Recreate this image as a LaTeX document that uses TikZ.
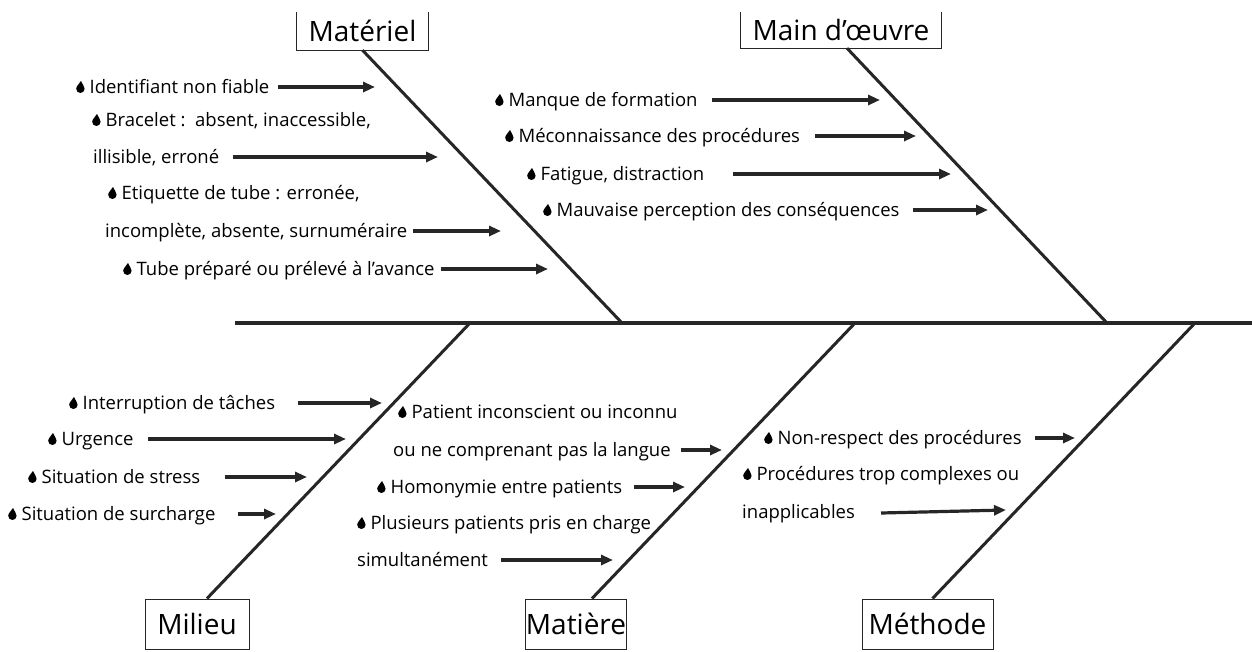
\documentclass[tikz,border=0pt]{standalone}
\usepackage{fontspec}
\setmainfont{Open Sans}
\usetikzlibrary{arrows.meta}
\definecolor{ink}{HTML}{262626}
\newcommand{\goutte}{\tikz[baseline=0pt,x=1pt,y=1pt]\fill[black] (0.6,12) .. controls (1.8,9.2) and (4.2,6.4) .. (4.2,4.2) arc[start angle=0,end angle=-180,radius=4.2] .. controls (-4.2,6.6) and (-1.2,9.2) .. (0.6,12) -- cycle;\hspace{5pt}}
\begin{document}
\begin{tikzpicture}[x=1pt,y=-1pt,
  txt/.style={anchor=base west,inner sep=0pt,font=\fontsize{18.5}{22}\selectfont,text=black},
  lbl/.style={inner sep=0pt,font=\fontsize{28}{32}\selectfont,text=black},
  box/.style={lbl,draw=ink,line width=1pt,minimum height=50pt},
  bone/.style={draw=ink,line width=3pt},
  arr/.style={draw=ink,line width=3.2pt,-{Triangle[length=12pt,width=10pt]}}]
\useasboundingbox (0,0) rectangle (1252,651);
\begin{scope}
\clip (0,0) rectangle (1252,651);
% spine
\coordinate (sp0) at (235,323);
\coordinate (sp1) at (1256,323);
\draw[ink,line width=3.4pt] (sp0) -- (sp1);
% head boxes
\node[lbl,minimum width=131pt,minimum height=38pt] (mat) at (362.5,31) {Matériel};
\draw[ink,line width=1pt] (mat.north west) -- (mat.south west) -- (mat.south east) -- (mat.north east);
\node[lbl,minimum width=200pt,minimum height=36pt] (mo) at (841,30) {Main d’œuvre};
\draw[ink,line width=1pt] (mo.north west) -- (mo.south west) -- (mo.south east) -- (mo.north east);
\node[box,minimum width=104pt] (mil) at (197,624) {Milieu};
\node[box,minimum width=100pt] (mtr) at (576,624) {Matière};
\node[box,minimum width=131pt] (mth) at (927.5,624) {Méthode};
% bones
\coordinate (b1) at (622,323);
\coordinate (b2) at (1107,323);
\coordinate (b3) at (470,323);
\coordinate (b4) at (855,323);
\coordinate (b5) at (1195,323);
\draw[bone] (mat.south) -- (b1);
\draw[bone] ([xshift=6pt]mo.south) -- (b2);
\draw[bone] (b3) -- ([xshift=10pt]mil.north);
\draw[bone] (b4) -- ([xshift=16pt]mtr.north);
\draw[bone] (b5) -- ([xshift=5pt]mth.north);
% Materiel causes
\node[txt] (m1) at (76,93) {\goutte Identifiant non fiable};
\node[txt] (m2) at (92,126) {\goutte Bracelet :\ \ absent, inaccessible,};
\node[txt] (m3) at (93,163) {illisible, erroné};
\node[txt] (m4) at (108,199) {\goutte Etiquette de tube : erronée,};
\node[txt] (m5) at (105,237) {incomplète, absente, surnuméraire};
\node[txt] (m6) at (123,275) {\goutte Tube préparé ou prélevé à l’avance};
\coordinate (m1s) at (278,87);  \coordinate (m1e) at (375,87);
\coordinate (m3s) at (233,157); \coordinate (m3e) at (438,157);
\coordinate (m5s) at (413,231); \coordinate (m5e) at (501,231);
\coordinate (m6s) at (441,269); \coordinate (m6e) at (548,269);
\draw[arr] (m1s) -- (m1e);
\draw[arr] (m3s) -- (m3e);
\draw[arr] (m5s) -- (m5e);
\draw[arr] (m6s) -- (m6e);
% Main d'oeuvre causes
\node[txt] (w1) at (495,106) {\goutte Manque de formation};
\node[txt] (w2) at (505,142) {\goutte Méconnaissance des procédures};
\node[txt] (w3) at (527,180) {\goutte Fatigue, distraction};
\node[txt] (w4) at (543,216) {\goutte Mauvaise perception des conséquences};
\coordinate (w1s) at (712,100); \coordinate (w1e) at (880,100);
\coordinate (w2s) at (815,136); \coordinate (w2e) at (916,136);
\coordinate (w3s) at (733,174); \coordinate (w3e) at (951,174);
\coordinate (w4s) at (913,210); \coordinate (w4e) at (988,210);
\draw[arr] (w1s) -- (w1e);
\draw[arr] (w2s) -- (w2e);
\draw[arr] (w3s) -- (w3e);
\draw[arr] (w4s) -- (w4e);
% Milieu causes
\node[txt] (l1) at (69,409) {\goutte Interruption de tâches};
\node[txt] (l2) at (48,445) {\goutte Urgence};
\node[txt] (l3) at (28,483) {\goutte Situation de stress};
\node[txt] (l4) at (8,520) {\goutte Situation de surcharge};
\coordinate (l1s) at (298,403); \coordinate (l1e) at (382,403);
\coordinate (l2s) at (148,439); \coordinate (l2e) at (346,439);
\coordinate (l3s) at (225,477); \coordinate (l3e) at (307,477);
\coordinate (l4s) at (238,514); \coordinate (l4e) at (276,514);
\draw[arr] (l1s) -- (l1e);
\draw[arr] (l2s) -- (l2e);
\draw[arr] (l3s) -- (l3e);
\draw[arr] (l4s) -- (l4e);
% Matiere causes
\node[txt] (t1) at (398,418) {\goutte Patient inconscient ou inconnu};
\node[txt] (t2) at (393,456) {ou ne comprenant pas la langue};
\node[txt] (t3) at (377,493) {\goutte Homonymie entre patients};
\node[txt] (t4) at (357,529) {\goutte Plusieurs patients pris en charge};
\node[txt] (t5) at (357,566) {simultanément};
\coordinate (t2s) at (681,450); \coordinate (t2e) at (722,450);
\coordinate (t3s) at (634,487); \coordinate (t3e) at (685,487);
\coordinate (t5s) at (501,560); \coordinate (t5e) at (613,560);
\draw[arr] (t2s) -- (t2e);
\draw[arr] (t3s) -- (t3e);
\draw[arr] (t5s) -- (t5e);
% Methode causes
\node[txt] (h1) at (764,444) {\goutte Non-respect des procédures};
\node[txt] (h2) at (743,480) {\goutte Procédures trop complexes ou};
\node[txt] (h3) at (742,518) {inapplicables};
\coordinate (h1s) at (1035,438); \coordinate (h1e) at (1075,438);
\coordinate (h3s) at (881,513); \coordinate (h3e) at (1006,510);
\draw[arr] (h1s) -- (h1e);
\draw[arr] (h3s) -- (h3e);
\end{scope}
\end{tikzpicture}
\end{document}
